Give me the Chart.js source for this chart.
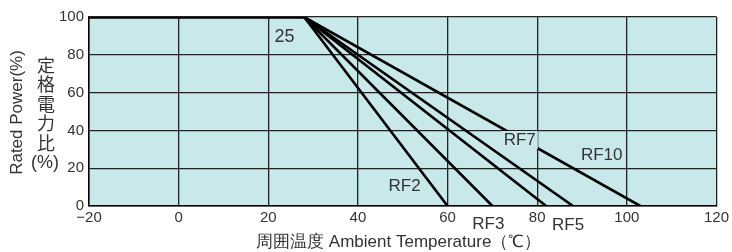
<!DOCTYPE html>
<html>
<head>
<meta charset="utf-8">
<script src="https://cdn.jsdelivr.net/npm/chart.js@4"></script>
<style>
  html, body { margin: 0; padding: 0; background: #fff; }
  #wrap { width: 732px; height: 252px; position: relative; }
</style>
</head>
<body>
<div id="wrap"><canvas id="chart"></canvas></div>
<script>
// derating curves: flat at 100% up to the knee, then linear down to 0%
const kneeTemp = 28;
const startTemp = -20;
const series = ['RF2', 'RF3', 'RF5', 'RF7', 'RF10'];
const zeroTemps = [60, 70, 82, 88, 103];

const xTickValues = [-20, 0, 20, 40, 60, 80, 100, 120];
const xTickLabels = ['\u221220', '0', '20', '40', '60', '80', '100', '120'];
const yTickValues = [0, 20, 40, 60, 80, 100];
const yTickLabels = ['0', '20', '40', '60', '80', '100'];

// annotation texts placed in data units
const noteTexts = ['25', 'RF2', 'RF3', 'RF5', 'RF7', 'RF10'];
const noteX = [23.6, 50.4, 69.1, 86.9, 76.1, 94.4];
const noteY = [89.4, 10.6, -9.5, -10, 34.9, 27];

const font = '"Liberation Sans", Arial, sans-serif';
const cjk = '"Noto Sans CJK JP", sans-serif';
const textColor = '#333';

const datasets = series.map((name, i) => ({
  label: name,
  data: [
    { x: startTemp, y: 100 },
    { x: kneeTemp, y: 100 },
    { x: zeroTemps[i], y: 0 },
  ],
  borderColor: '#000',
  borderWidth: 2.6,
  pointRadius: 0,
  tension: 0,
  fill: false,
}));

const bgPlugin = {
  id: 'plotBg',
  beforeDraw(chart) {
    const { ctx, chartArea: a } = chart;
    ctx.save();
    ctx.fillStyle = '#c8e8ea';
    ctx.fillRect(a.left, a.top, a.right - a.left, a.bottom - a.top);
    ctx.restore();
  },
};

const textPlugin = {
  id: 'texts',
  afterDraw(chart) {
    const { ctx, chartArea: a } = chart;
    const xs = chart.scales.x, ys = chart.scales.y;
    ctx.save();
    ctx.fillStyle = textColor;
    ctx.textAlign = 'center';
    ctx.textBaseline = 'middle';

    // notes on the curves
    noteTexts.forEach((t, i) => {
      const px = xs.getPixelForValue(noteX[i]);
      const py = ys.getPixelForValue(noteY[i]);
      ctx.font = (t === '25' ? '18px ' : '17px ') + font;
      if (t === 'RF7') {
        const w = ctx.measureText(t).width;
        ctx.fillStyle = '#c8e8ea';
        ctx.fillRect(px - w / 2 - 2, py - 9, w + 4, 18);
        ctx.fillStyle = textColor;
      }
      ctx.fillText(t, px, py);
    });

    // x axis title
    ctx.font = '17px ' + font;
    ctx.fillText('\u5468\u56f2\u6e29\u5ea6 Ambient Temperature\uff08\u2103\uff09', (a.left + a.right) / 2 - 4, 242);

    // y axis title (rotated)
    ctx.save();
    ctx.translate(17, (a.top + a.bottom) / 2 + 1);
    ctx.rotate(-Math.PI / 2);
    ctx.font = '17px ' + font;
    ctx.fillText('Rated Power(%)', 0, 0);
    ctx.restore();

    // vertical Japanese title
    ctx.font = '18px ' + cjk;
    const chars = ['\u5b9a', '\u683c', '\u96fb', '\u529b', '\u6bd4'];
    chars.forEach((c, i) => ctx.fillText(c, 46, 65 + i * 19.5));
    ctx.font = '18px ' + font;
    ctx.fillText('(%)', 45, 163);
    ctx.restore();
  },
};

new Chart(document.getElementById('chart'), {
  type: 'line',
  data: { datasets },
  options: {
    responsive: true,
    maintainAspectRatio: false,
    animation: false,
    layout: { padding: { top: 17, right: 13, left: 0, bottom: 0 } },
    plugins: { legend: { display: false }, tooltip: { enabled: false } },
    scales: {
      x: {
        type: 'linear',
        min: -20,
        max: 120,
        afterFit: (s) => { s.height = 46; },
        afterBuildTicks: (s) => { s.ticks = xTickValues.map((v) => ({ value: v })); },
        ticks: {
          autoSkip: false,
          maxRotation: 0,
          padding: 3,
          color: textColor,
          font: { family: font, size: 15 },
          callback: (v) => xTickLabels[xTickValues.indexOf(v)],
        },
        grid: { color: '#222', lineWidth: 1.3, drawTicks: false },
        border: { display: true, color: '#000', width: 1.5 },
      },
      y: {
        type: 'linear',
        min: 0,
        max: 100,
        afterFit: (s) => { s.width = 89; },
        afterBuildTicks: (s) => { s.ticks = yTickValues.map((v) => ({ value: v })); },
        ticks: {
          padding: 5,
          color: textColor,
          font: { family: font, size: 15 },
          callback: (v) => yTickLabels[yTickValues.indexOf(v)],
        },
        grid: { color: '#222', lineWidth: 1.3, drawTicks: false },
        border: { display: true, color: '#000', width: 1.5 },
      },
    },
  },
  plugins: [bgPlugin, textPlugin],
});
</script>
</body>
</html>
